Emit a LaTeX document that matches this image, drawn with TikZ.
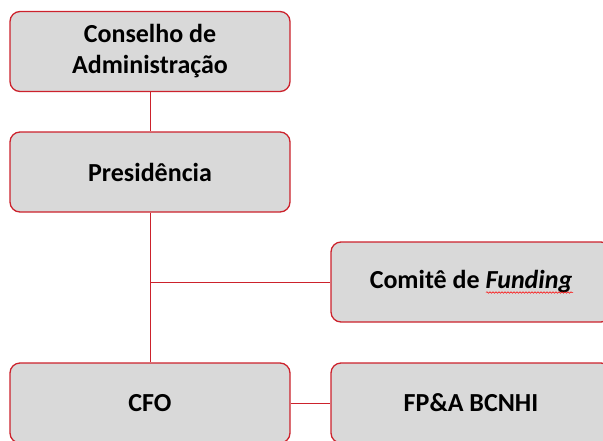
\documentclass[tikz,border=0pt]{standalone}
\usepackage{fontspec}
\setmainfont{Carlito}
\usetikzlibrary{decorations.pathmorphing}
\definecolor{boxred}{RGB}{204,34,44}
\definecolor{boxgray}{RGB}{217,217,217}
\begin{document}
\begin{tikzpicture}[x=1pt,y=-1pt,
  orgbox/.style={draw=boxred, line width=1.3pt, fill=boxgray, rounded corners=10pt,
    minimum width=280pt, minimum height=80pt, inner sep=0pt, align=center,
    font=\fontsize{26}{31}\selectfont\bfseries},
  link/.style={draw=boxred, line width=1pt}]
\useasboundingbox (0,0) rectangle (603,440);
\clip (0,0) rectangle (603,440);
\node[orgbox] (cons) at (150,51.5) {Conselho de\\Administração};
\node[orgbox] (pres) at (150,172) {Presidência};
\node[orgbox] (comite) at (471,282) {Comitê de \textit{Funding}};
\node[orgbox] (cfo) at (150,403) {CFO};
\node[orgbox] (fpa) at (471,403) {FP\&A BCNHI};
\coordinate (j) at (150,282);
\draw[link] (cons.south) -- (pres.north);
\draw[link] (pres.south) -- (cfo.north);
\draw[link] (j) -- (comite.west);
\draw[link] (cfo.east) -- (fpa.west);
\draw[red, line width=0.5pt, decorate, decoration={snake, amplitude=0.8pt, segment length=3pt}] (486,292.5) -- (573,292.5);
\end{tikzpicture}
\end{document}
